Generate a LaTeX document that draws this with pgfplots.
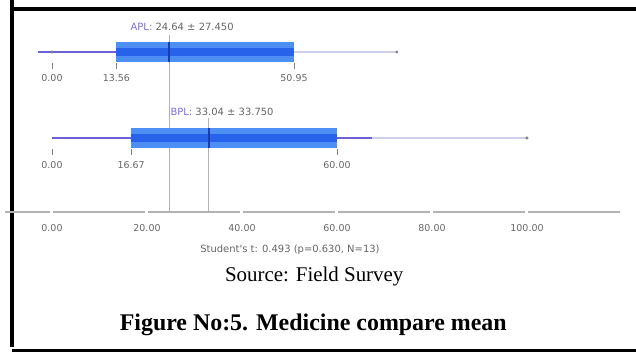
\documentclass[border=0pt]{standalone}
\usepackage{pgfplots}
\pgfplotsset{compat=1.18}
\usepackage{fontspec}
\setmainfont{Liberation Serif}
\newfontfamily\dv{DejaVu Sans}
\definecolor{boxblue}{HTML}{4D8FF3}
\definecolor{bandblue}{HTML}{2763EA}
\definecolor{meanblue}{HTML}{1A3CB0}
\definecolor{whisk}{HTML}{6B60D6}
\definecolor{whisklight}{HTML}{CFCFEC}
\definecolor{lblpurple}{HTML}{7A6EE0}
\definecolor{txtgray}{HTML}{666666}
\begin{document}
\begin{tikzpicture}
\begin{axis}[
  x=4.75bp, y=1bp,
  xmin=-9.9, xmax=120, ymin=140, ymax=340,
  axis x line*=bottom, axis y line=none,
  x axis line style={draw=none},
  xtick={0,20,40,60,80,100},
  major tick length=0pt,
  xticklabel style={font=\dv\fontsize{9.5}{11}\selectfont, text=txtgray, anchor=center, yshift=-16bp,
    /pgf/number format/fixed, /pgf/number format/fixed zerofill,
    /pgf/number format/precision=2, /pgf/number format/assume math mode=true},
  clip=false,
]
\coordinate (BL) at (axis cs:-10.947,0);
\coordinate (TR) at (axis cs:122.947,352);
% frame
\draw[black, line width=3.5bp] (axis cs:-8.42,352) -- (axis cs:-8.42,5);
\draw[black, line width=3.5bp] (axis cs:-8.42,343) -- (axis cs:122.947,343);
\draw[black, line width=3bp] (axis cs:-8.42,2) -- (axis cs:122.947,2);
% axis line with gaps at the ticks
\addplot[draw=gray!60, line width=1.6bp, dash pattern=on 92bp off 3bp, dash phase=46.5bp] coordinates {(-9.9,140)(120,140)};
% long vertical mean lines
\addplot[gray!60, line width=0.9bp] coordinates {(24.64,317)(24.64,140)};
\addplot[gray!60, line width=0.9bp] coordinates {(33.04,234)(33.04,140)};
% ---------- APL ----------
\addplot[whisk, line width=1.5bp] coordinates {(-2.9,300)(13.56,300)};
\addplot[whisklight, line width=1.2bp] coordinates {(50.95,300)(72.6,300)};
\addplot[only marks, mark=*, mark size=1.3bp, gray] coordinates {(72.6,300)(0,300)};
\addplot[fill=boxblue, draw=none] coordinates {(13.56,290)(50.95,290)(50.95,310)(13.56,310)} -- cycle;
\addplot[fill=bandblue, draw=none] coordinates {(13.56,296)(50.95,296)(50.95,304)(13.56,304)} -- cycle;
\addplot[meanblue, line width=2bp] coordinates {(24.64,290)(24.64,310)};
\addplot[gray, line width=0.6bp] coordinates {(0,289)(0,283)};
\addplot[gray, line width=0.6bp] coordinates {(13.56,289)(13.56,283)};
\addplot[gray, line width=0.6bp] coordinates {(50.95,289)(50.95,283)};
\node[font=\dv\fontsize{9.5}{11}\selectfont, text=txtgray] at (axis cs:0,274) {0.00};
\node[font=\dv\fontsize{9.5}{11}\selectfont, text=txtgray] at (axis cs:13.56,274) {13.56};
\node[font=\dv\fontsize{9.5}{11}\selectfont, text=txtgray] at (axis cs:50.95,274) {50.95};
\node[font=\dv\fontsize{10}{12}\selectfont, text=txtgray] at (axis cs:27.4,325) {\textcolor{lblpurple}{APL:} 24.64 ± 27.450};
% ---------- BPL ----------
\addplot[whisk, line width=1.5bp] coordinates {(0,214)(16.67,214)};
\addplot[whisk, line width=1.5bp] coordinates {(60,214)(67.4,214)};
\addplot[whisklight, line width=1.2bp] coordinates {(67.4,214)(100,214)};
\addplot[only marks, mark=*, mark size=1.3bp, gray] coordinates {(100,214)};
\addplot[fill=boxblue, draw=none] coordinates {(16.67,204)(60,204)(60,224)(16.67,224)} -- cycle;
\addplot[fill=bandblue, draw=none] coordinates {(16.67,210)(60,210)(60,218)(16.67,218)} -- cycle;
\addplot[meanblue, line width=2bp] coordinates {(33.04,204)(33.04,224)};
\addplot[gray, line width=0.6bp] coordinates {(0,203)(0,197)};
\addplot[gray, line width=0.6bp] coordinates {(16.67,203)(16.67,197)};
\addplot[gray, line width=0.6bp] coordinates {(60,203)(60,197)};
\node[font=\dv\fontsize{9.5}{11}\selectfont, text=txtgray] at (axis cs:0,187) {0.00};
\node[font=\dv\fontsize{9.5}{11}\selectfont, text=txtgray] at (axis cs:16.67,187) {16.67};
\node[font=\dv\fontsize{9.5}{11}\selectfont, text=txtgray] at (axis cs:60,187) {60.00};
\node[font=\dv\fontsize{10}{12}\selectfont, text=txtgray] at (axis cs:35.8,240) {\textcolor{lblpurple}{BPL:} 33.04 ± 33.750};
% ---------- captions ----------
\node[font=\dv\fontsize{10}{12}\selectfont, text=txtgray] at (axis cs:50.1,102) {Student's t: 0.493 (p=0.630, N=13)};
\node[font=\fontsize{21}{24}\selectfont] at (axis cs:55.2,76) {Source: Field Survey};
\node[font=\fontsize{24}{28}\selectfont\bfseries] at (axis cs:55,27) {Figure No:5. Medicine compare mean};
\end{axis}
\pgfresetboundingbox
\useasboundingbox (BL) rectangle (TR);
\end{tikzpicture}
\end{document}
